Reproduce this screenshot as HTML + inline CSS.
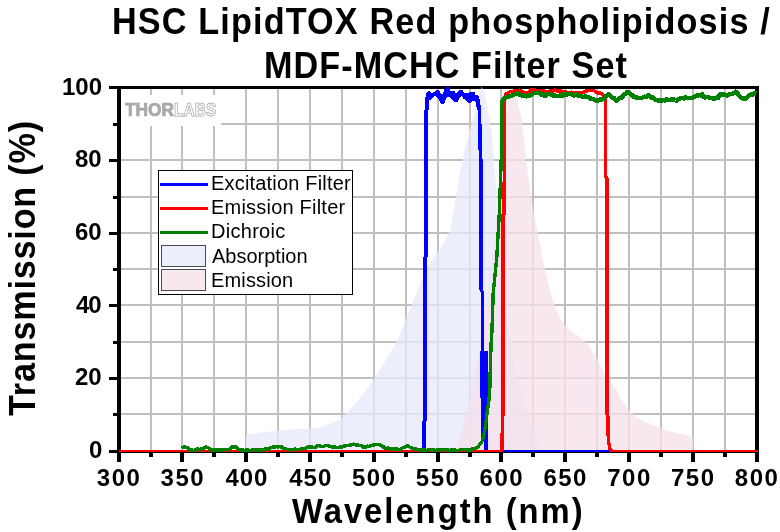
<!DOCTYPE html>
<html><head><meta charset="utf-8"><title>HSC LipidTOX Red phospholipidosis / MDF-MCHC Filter Set</title>
<style>
html,body{margin:0;padding:0;background:#fff;}
body{width:780px;height:532px;overflow:hidden;}
svg{display:block;}
text{font-family:"Liberation Sans",Arial,sans-serif;}
.b{font-weight:bold;}
</style></head><body>
<svg width="780" height="532" viewBox="0 0 780 532">
<rect width="780" height="532" fill="#fff"/>

<g fill="#c0c0c0"><rect x="150" y="89" width="2" height="361"/><rect x="181" y="89" width="2" height="361"/><rect x="213" y="89" width="2" height="361"/><rect x="245" y="89" width="2" height="361"/><rect x="277" y="89" width="2" height="361"/><rect x="309" y="89" width="2" height="361"/><rect x="341" y="89" width="2" height="361"/><rect x="373" y="89" width="2" height="361"/><rect x="405" y="89" width="2" height="361"/><rect x="437" y="89" width="2" height="361"/><rect x="469" y="89" width="2" height="361"/><rect x="500" y="89" width="2" height="361"/><rect x="532" y="89" width="2" height="361"/><rect x="564" y="89" width="2" height="361"/><rect x="596" y="89" width="2" height="361"/><rect x="628" y="89" width="2" height="361"/><rect x="660" y="89" width="2" height="361"/><rect x="692" y="89" width="2" height="361"/><rect x="724" y="89" width="2" height="361"/><rect x="121" y="413" width="634" height="2"/><rect x="121" y="377" width="634" height="2"/><rect x="121" y="341" width="634" height="2"/><rect x="121" y="304" width="634" height="2"/><rect x="121" y="268" width="634" height="2"/><rect x="121" y="232" width="634" height="2"/><rect x="121" y="196" width="634" height="2"/><rect x="121" y="159" width="634" height="2"/><rect x="121" y="123" width="634" height="2"/></g>
<rect x="121" y="95" width="100" height="31" fill="#fff"/>
<rect x="117" y="86" width="4" height="376" fill="#000"/>
<rect x="755" y="86" width="4" height="376" fill="#000"/>
<rect x="117" y="86" width="642" height="3" fill="#000"/>
<rect x="117" y="450" width="642" height="3" fill="#000"/>
<rect x="109" y="450" width="8" height="3" fill="#000"/>
<rect x="113" y="413" width="4" height="3" fill="#000"/>
<rect x="109" y="377" width="8" height="3" fill="#000"/>
<rect x="113" y="341" width="4" height="3" fill="#000"/>
<rect x="109" y="304" width="8" height="3" fill="#000"/>
<rect x="113" y="268" width="4" height="3" fill="#000"/>
<rect x="109" y="232" width="8" height="3" fill="#000"/>
<rect x="113" y="196" width="4" height="3" fill="#000"/>
<rect x="109" y="159" width="8" height="3" fill="#000"/>
<rect x="113" y="123" width="4" height="3" fill="#000"/>
<rect x="109" y="86" width="8" height="3" fill="#000"/>
<rect x="149" y="450" width="4" height="7" fill="#000"/>
<rect x="180" y="450" width="4" height="12" fill="#000"/>
<rect x="212" y="450" width="4" height="7" fill="#000"/>
<rect x="244" y="450" width="4" height="12" fill="#000"/>
<rect x="276" y="450" width="4" height="7" fill="#000"/>
<rect x="308" y="450" width="4" height="12" fill="#000"/>
<rect x="340" y="450" width="4" height="7" fill="#000"/>
<rect x="372" y="450" width="4" height="12" fill="#000"/>
<rect x="404" y="450" width="4" height="7" fill="#000"/>
<rect x="436" y="450" width="4" height="12" fill="#000"/>
<rect x="468" y="450" width="4" height="7" fill="#000"/>
<rect x="499" y="450" width="4" height="12" fill="#000"/>
<rect x="531" y="450" width="4" height="7" fill="#000"/>
<rect x="563" y="450" width="4" height="12" fill="#000"/>
<rect x="595" y="450" width="4" height="7" fill="#000"/>
<rect x="627" y="450" width="4" height="12" fill="#000"/>
<rect x="659" y="450" width="4" height="7" fill="#000"/>
<rect x="691" y="450" width="4" height="12" fill="#000"/>
<rect x="723" y="450" width="4" height="7" fill="#000"/>
<defs><pattern id="pa" x="0" y="0" width="2" height="2" patternUnits="userSpaceOnUse"><rect width="2" height="2" fill="#e0e4f8"/><rect width="1" height="1" fill="#eceefc"/><rect x="1" y="1" width="1" height="1" fill="#eceefc"/></pattern><pattern id="pe" x="0" y="0" width="2" height="2" patternUnits="userSpaceOnUse"><rect width="2" height="2" fill="#efd9e6"/><rect width="1" height="1" fill="#fce9f1"/><rect x="1" y="1" width="1" height="1" fill="#fce9f1"/></pattern></defs>
<polygon points="246.0,450.3 246.0,434.8 265.0,432.0 278.0,431.0 290.0,429.2 310.0,428.5 320.0,427.5 329.0,424.6 335.0,421.7 341.3,418.0 352.6,406.7 362.0,395.4 373.2,380.4 382.6,365.3 392.0,350.3 399.5,335.3 407.1,316.5 414.6,297.7 422.1,278.9 431.5,260.0 442.8,245.0 450.3,230.0 454.0,210.0 458.6,180.0 464.7,150.0 469.3,130.0 474.3,116.0 478.0,100.0 481.7,86.5 485.0,95.0 488.7,116.0 491.2,130.0 492.8,148.0 495.7,180.0 497.6,212.0 499.0,244.0 501.5,280.0 505.0,305.0 509.0,330.0 516.0,377.0 525.6,412.0 539.7,443.0 546.0,450.3" fill="url(#pa)" fill-opacity="0.76"/>
<polygon points="457.0,450.3 457.0,448.0 466.0,415.0 470.0,400.0 478.0,360.0 487.0,300.0 495.0,230.0 500.0,180.0 505.0,120.0 510.0,92.0 512.0,88.5 516.7,99.5 520.8,115.0 524.0,139.0 526.5,165.0 532.6,205.8 539.0,240.0 545.0,270.0 552.6,300.0 560.0,318.0 566.0,327.0 578.0,336.0 588.6,345.0 597.7,360.0 605.0,375.0 609.9,379.9 615.5,388.3 621.2,399.6 628.2,409.5 633.8,415.1 642.3,420.8 656.4,426.4 670.5,431.4 684.6,434.9 693.0,437.0 693.0,450.3" fill="url(#pe)" fill-opacity="0.76"/>
<rect x="119" y="450" width="638" height="2" fill="#0000ff"/>
<polyline points="424.1,451.0 424.1,448.0 424.1,422.0 424.8,421.0 424.8,258.0 425.9,256.0 426.2,110.0 426.8,100.0 428.0,95.0 432.0,95.0 436.0,93.0 440.0,95.0 444.0,96.0 447.0,92.0 452.0,94.0 456.0,96.0 460.0,94.0 466.0,96.0 470.0,97.0 474.0,96.0 477.0,98.0 478.7,104.0 479.5,112.0 480.0,130.0 480.3,158.0 481.0,160.0 481.2,290.0 482.2,292.0 482.2,360.0" fill="none" stroke="#0000ff" stroke-width="3.4" stroke-linejoin="round" shape-rendering="crispEdges"/>
<polygon points="480.2,351.0 487.8,351.0 488.3,451.0 484.0,451.0 484.0,437.0 481.0,437.0 481.0,398.0 480.2,398.0" fill="#0000ff" shape-rendering="crispEdges"/>
<polygon points="425.2,98.9 426.1,93.9 427.3,91.7 429.0,91.0 431.0,92.1 432.5,94.8 433.9,92.9 436.0,90.2 439.5,90.6 441.0,93.5 442.4,95.6 443.4,92.7 444.7,88.6 446.3,87.1 449.2,87.3 450.5,91.4 452.0,91.2 454.8,91.5 456.0,93.9 458.0,91.5 459.0,90.2 462.5,90.2 464.5,93.1 466.0,93.5 467.5,93.0 470.0,92.1 474.5,92.1 475.5,94.8 478.0,95.2 479.0,97.0 479.8,100.0 480.4,106.0 480.4,110.0 477.0,110.0 476.0,103.4 475.0,101.0 473.0,101.0 471.0,102.6 468.0,102.6 466.0,100.1 463.5,98.5 461.5,96.0 459.0,98.5 457.5,101.8 454.0,101.8 453.0,100.5 451.3,98.9 449.2,97.2 447.2,96.4 445.5,100.1 444.3,103.9 442.2,104.5 440.1,102.6 438.1,98.5 435.8,96.0 433.1,96.8 431.0,99.7 429.0,100.5 429.0,110.0 425.2,110.0" fill="#0000ff" shape-rendering="crispEdges"/>
<rect x="119" y="450" width="384" height="2" fill="#ff0000"/><rect x="610" y="450" width="148" height="2" fill="#ff0000"/>
<polyline points="502.0,451.0 502.0,434.0 502.8,433.0 503.0,215.0 504.0,214.0 504.5,140.0 504.8,100.0 506.0,93.5 507.3,93.1 508.7,92.7 510.0,91.7 511.7,91.8 513.3,91.6 515.0,90.5 516.5,91.0 518.0,91.4 519.5,90.1 521.0,91.0 522.7,91.6 524.3,93.0 526.0,93.0 527.5,92.5 529.0,92.1 530.5,90.1 532.0,90.0 533.7,90.1 535.3,89.9 537.0,90.5 538.3,90.7 539.7,91.0 541.0,90.2 542.3,90.7 543.7,91.0 545.0,91.5 546.7,92.0 548.3,91.6 550.0,91.0 551.5,90.3 553.0,91.2 554.5,90.0 556.0,90.5 557.3,91.0 558.7,90.6 560.0,91.5 561.4,90.8 562.9,92.4 564.3,91.5 565.7,91.6 567.1,93.0 568.6,93.0 570.0,92.5 571.4,92.2 572.7,93.3 574.0,92.7 575.4,92.9 576.8,92.2 578.1,93.4 579.4,93.1 580.8,92.8 582.2,93.0 583.6,92.4 585.0,91.2 586.4,90.8 587.9,90.8 589.3,90.4 590.8,90.2 592.2,90.7 593.9,90.7 595.7,91.8 597.4,92.8 598.8,93.3 600.1,92.7 601.5,93.8 603.0,95.2 604.5,96.0 605.5,100.0 605.6,177.0 606.9,178.0 606.9,414.0 607.8,415.0 608.3,440.0 610.0,449.0 612.0,451.0" fill="none" stroke="#ff0000" stroke-width="3.4" stroke-linejoin="round" shape-rendering="crispEdges"/>
<polyline points="181.5,448.0 184.0,446.8 185.5,447.1 187.0,447.5 188.5,448.6 190.0,450.0 191.7,449.6 193.3,450.4 195.0,450.0 197.5,448.8 200.0,450.0 201.5,448.8 203.0,448.5 205.5,447.0 208.0,447.5 209.5,448.8 211.0,450.0 212.3,450.4 213.6,449.6 214.9,450.1 216.2,450.1 217.5,449.5 218.8,449.9 220.2,450.2 221.5,450.0 222.8,450.2 224.1,449.7 225.4,449.7 226.7,449.6 228.0,450.0 229.5,449.0 231.0,448.0 233.0,446.5 234.5,447.2 236.0,447.0 237.5,448.3 239.0,449.5 240.5,449.9 242.0,449.7 243.5,450.3 245.0,450.2 246.4,449.8 247.7,450.0 249.1,450.3 250.5,450.4 251.8,450.0 253.2,449.7 254.5,449.8 255.9,449.8 257.3,449.8 258.6,450.3 260.0,450.0 261.3,449.5 262.6,450.0 263.9,449.9 265.3,448.9 266.6,449.0 267.9,449.0 269.2,448.8 270.7,447.7 272.3,447.4 273.8,446.8 275.2,447.2 276.5,446.5 277.9,447.0 279.3,446.6 280.6,447.0 282.0,447.0 283.5,448.2 285.0,448.4 286.5,449.5 288.2,449.3 290.0,450.0 291.4,449.5 292.9,449.8 294.3,449.2 295.7,449.1 297.1,449.4 298.6,449.7 300.0,449.2 301.7,448.8 303.3,448.5 305.0,448.3 306.5,448.0 308.1,447.0 309.6,447.0 311.0,447.3 312.3,447.1 313.6,447.7 315.0,447.8 316.4,447.1 317.7,445.5 319.1,445.5 320.6,446.4 322.0,446.8 323.5,446.5 325.0,445.7 326.5,445.4 328.0,445.3 329.7,446.4 331.3,446.9 333.0,447.0 334.5,446.7 336.0,447.5 337.5,447.8 339.0,447.5 340.5,446.9 342.0,446.9 343.5,445.9 345.0,446.0 346.4,445.6 347.8,445.6 349.1,445.2 350.5,445.1 351.9,444.5 353.4,444.2 354.9,444.5 356.5,445.1 358.0,444.8 359.3,445.3 360.6,445.6 361.9,446.0 363.2,447.0 364.5,447.0 365.8,447.3 367.5,446.2 369.3,446.4 371.0,445.5 372.5,445.1 374.0,445.0 375.5,444.6 377.0,444.6 378.5,444.5 379.9,445.1 381.3,445.6 382.6,446.9 384.0,447.1 385.4,448.3 386.8,448.7 388.1,448.0 389.5,448.9 390.9,449.0 392.3,448.8 393.6,449.1 395.0,449.0 396.7,448.9 398.3,449.6 400.0,449.5 401.5,448.7 402.9,447.8 404.4,447.7 405.8,446.4 407.3,445.8 408.7,446.3 410.1,447.5 411.6,447.7 413.0,448.5 414.4,449.0 415.8,448.8 417.2,449.7 418.6,449.5 420.0,450.0 421.3,449.6 422.6,450.5 423.9,449.7 425.3,450.4 426.6,450.5 427.9,450.1 429.2,449.5 430.5,449.6 431.8,449.7 433.2,449.9 434.5,450.1 435.8,450.5 437.1,449.9 438.4,449.6 439.7,450.1 441.1,449.6 442.4,449.6 443.7,450.1 445.0,450.2 446.3,449.6 447.6,450.0 448.9,450.2 450.3,450.3 451.6,449.9 452.9,450.4 454.2,449.7 455.5,450.2 456.8,450.3 458.2,450.4 459.5,450.0 460.8,449.6 462.1,449.5 463.4,450.0 464.7,449.7 466.1,450.1 467.4,449.6 468.7,450.3 470.0,450.0 471.7,449.2 473.3,448.5 475.0,448.5 476.5,447.5 478.0,447.1 482.3,441.0 484.7,431.0 487.0,414.0 488.0,406.0 489.0,400.0 489.9,387.0 490.0,380.0 491.0,345.0 492.0,330.0 493.2,293.0 496.8,257.0 499.3,214.0 501.2,160.0 502.0,140.0 502.2,100.5" fill="none" stroke="#008000" stroke-width="3.4" stroke-linejoin="round" shape-rendering="crispEdges"/>
<polyline points="502.2,100.5 504.0,98.5 505.9,97.5 507.9,97.2 509.4,96.0 511.0,96.1 512.5,95.5 514.1,94.3 516.2,93.7 517.8,93.2 519.3,94.5 520.7,95.1 522.0,95.3 523.4,96.1 525.0,95.4 526.5,96.4 527.9,96.1 529.2,94.8 530.6,95.4 532.2,94.2 533.7,93.3 536.3,92.9 537.9,92.6 539.4,93.1 541.0,94.5 542.7,94.6 544.4,95.8 546.1,95.4 547.5,94.3 548.9,94.1 550.3,94.3 551.7,94.8 553.0,95.7 554.4,95.1 556.0,95.8 557.5,96.1 560.0,95.5 561.3,95.0 562.6,95.9 564.0,93.7 565.3,94.3 566.7,95.1 568.1,94.1 569.5,93.9 570.8,93.9 572.2,94.4 573.6,95.5 575.0,95.0 576.5,94.7 578.0,95.8 579.5,96.2 581.0,96.0 582.5,96.7 584.0,96.9 585.4,96.3 586.9,96.7 588.3,97.3 589.8,98.5 591.2,98.5 592.9,99.2 594.6,99.8 596.3,101.0 597.6,100.8 599.0,100.1 600.3,99.4 601.7,100.0 603.0,99.0 604.4,98.2 605.9,96.1 607.3,95.6 608.7,94.3 610.1,95.4 611.5,97.1 612.9,97.9 614.2,98.0 615.6,100.4 617.0,100.5 618.5,98.6 620.0,98.1 621.5,97.6 623.0,96.0 624.4,94.2 625.7,93.9 627.0,91.9 628.4,91.8 629.8,93.2 631.1,94.5 632.5,95.3 633.8,97.0 635.2,97.4 636.9,97.2 638.6,98.2 640.3,98.0 641.7,97.8 643.1,97.3 644.5,96.6 645.8,96.9 647.2,96.7 648.6,95.4 650.1,96.4 651.7,97.8 653.2,97.6 654.8,99.5 656.1,100.2 657.4,100.3 658.7,101.2 660.0,100.5 661.3,101.1 662.7,99.9 664.0,100.0 665.3,100.5 666.7,99.1 668.0,100.0 669.5,100.0 671.0,99.5 672.5,99.5 674.0,99.5 675.5,100.5 676.9,100.5 678.4,98.8 679.8,98.5 681.3,98.3 682.7,98.0 684.0,98.7 685.4,97.2 686.7,97.9 688.0,98.0 689.4,97.8 690.8,98.1 692.2,97.7 693.6,97.4 695.0,96.4 696.5,95.5 698.0,95.4 699.4,94.9 700.9,95.5 702.4,94.3 703.7,96.8 705.0,97.5 706.5,97.0 708.0,97.3 709.4,97.6 710.9,97.8 712.4,98.5 713.8,98.3 715.2,98.4 716.6,97.7 718.0,98.0 719.4,95.2 720.7,94.3 722.0,94.3 723.4,94.4 724.7,95.0 726.0,95.0 727.4,95.6 728.8,94.7 730.2,94.0 731.6,93.9 733.0,93.3 734.4,93.3 735.8,91.7 737.2,92.3 738.6,94.8 739.9,96.3 741.3,97.4 742.9,98.5 744.4,98.7 746.0,98.5 747.3,97.1 748.7,96.0 750.0,95.0 751.6,93.8 753.1,94.5 754.7,93.0 756.3,93.5" fill="none" stroke="#008000" stroke-width="4.4" stroke-linejoin="round" shape-rendering="crispEdges"/>
<text x="125" y="116" font-size="18" class="b" fill="#a8a8a8" stroke="#a8a8a8" stroke-width="0.7" textLength="49" lengthAdjust="spacingAndGlyphs">THOR</text>
<text x="174" y="116" font-size="18" class="b" fill="#fff" stroke="#a4a4a4" stroke-width="0.75" textLength="42.5" lengthAdjust="spacingAndGlyphs">LABS</text>
<rect x="158.5" y="170.5" width="194" height="124" fill="#fff" stroke="#000" stroke-width="1"/>
<path d="M160 184.5H208" stroke="#0000ff" stroke-width="3"/>
<path d="M160 208.5H208" stroke="#ff0000" stroke-width="3"/>
<path d="M160 232.5H208" stroke="#008000" stroke-width="3"/>
<rect x="161.5" y="245.5" width="44" height="21" fill="url(#pa)" fill-opacity="0.76" stroke="#4a4a4a" stroke-width="1"/>
<rect x="161.5" y="269.5" width="44" height="21" fill="url(#pe)" fill-opacity="0.76" stroke="#4a4a4a" stroke-width="1"/>
<text x="211.00" y="190" font-size="20" textLength="139.72" lengthAdjust="spacing">Excitation Filter</text>
<text x="211.00" y="214" font-size="20" textLength="134.14" lengthAdjust="spacing">Emission Filter</text>
<text x="211.00" y="238" font-size="20" textLength="74.25" lengthAdjust="spacing">Dichroic</text>
<text x="212.00" y="263" font-size="20" textLength="95.62" lengthAdjust="spacing">Absorption</text>
<text x="211.00" y="287" font-size="20" textLength="82.14" lengthAdjust="spacing">Emission</text>
<text x="89.00" y="458" font-size="24" class="b" textLength="13.36" lengthAdjust="spacing">0</text>
<text x="75.00" y="385" font-size="24" class="b" textLength="26.70" lengthAdjust="spacing">20</text>
<text x="76.00" y="313" font-size="24" class="b" textLength="25.70" lengthAdjust="spacing">40</text>
<text x="75.00" y="240" font-size="24" class="b" textLength="26.70" lengthAdjust="spacing">60</text>
<text x="75.00" y="167" font-size="24" class="b" textLength="26.70" lengthAdjust="spacing">80</text>
<text x="62.00" y="95" font-size="24" class="b" textLength="40.05" lengthAdjust="spacing">100</text>
<text x="96.8" y="486" font-size="24" class="b" textLength="43.05" lengthAdjust="spacing">300</text>
<text x="160.6" y="486" font-size="24" class="b" textLength="43.05" lengthAdjust="spacing">350</text>
<text x="225.4" y="486" font-size="24" class="b" textLength="42.05" lengthAdjust="spacing">400</text>
<text x="289.2" y="486" font-size="24" class="b" textLength="42.05" lengthAdjust="spacing">450</text>
<text x="352.0" y="486" font-size="24" class="b" textLength="43.05" lengthAdjust="spacing">500</text>
<text x="415.8" y="486" font-size="24" class="b" textLength="43.05" lengthAdjust="spacing">550</text>
<text x="479.6" y="486" font-size="24" class="b" textLength="43.05" lengthAdjust="spacing">600</text>
<text x="543.4" y="486" font-size="24" class="b" textLength="43.05" lengthAdjust="spacing">650</text>
<text x="607.2" y="486" font-size="24" class="b" textLength="43.05" lengthAdjust="spacing">700</text>
<text x="671.0" y="486" font-size="24" class="b" textLength="43.05" lengthAdjust="spacing">750</text>
<text x="734.8" y="486" font-size="24" class="b" textLength="43.05" lengthAdjust="spacing">800</text>
<text transform="translate(112.00,34) scale(0.95,1)" x="0" y="0" font-size="36" class="b" textLength="692.36" lengthAdjust="spacing">HSC LipidTOX Red phospholipidosis /</text>
<text transform="translate(264.00,78) scale(0.95,1)" x="0" y="0" font-size="36" class="b" textLength="381.96" lengthAdjust="spacing">MDF-MCHC Filter Set</text>
<text transform="translate(292.00,523) scale(0.91,1)" x="0" y="0" font-size="36" class="b" textLength="319.34" lengthAdjust="spacing">Wavelength (nm)</text>
<text transform="translate(35,416) rotate(-90) scale(0.95,1)" x="0" y="0" font-size="36" class="b" textLength="310.69" lengthAdjust="spacing">Transmission (%)</text>
</svg>
</body></html>
